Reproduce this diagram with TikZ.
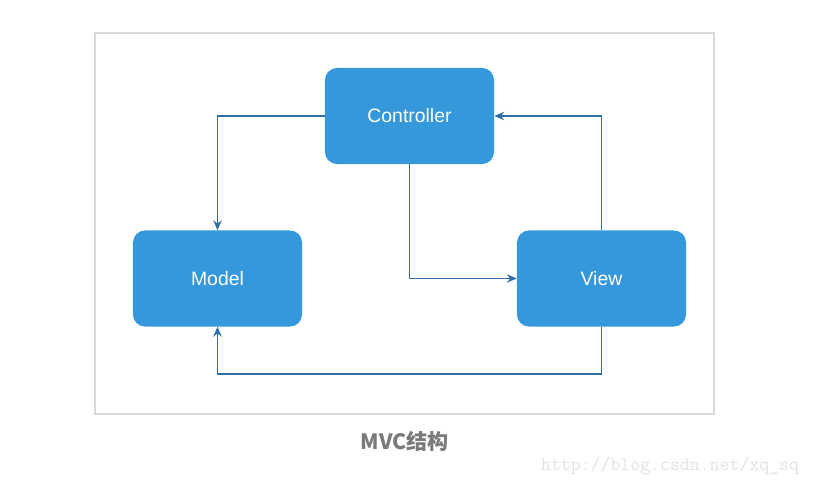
\documentclass[tikz,border=0pt]{standalone}
\usepackage{fontspec}
\usepackage{tikz}
\usetikzlibrary{arrows.meta, positioning}
\setmainfont{Liberation Sans}
\newfontfamily\cjkfont{Noto Sans CJK SC}
\definecolor{boxblue}{HTML}{3598DB}
\definecolor{linkblue}{HTML}{2F6FA6}
\definecolor{framegray}{HTML}{D9D9D9}
\definecolor{captiongray}{HTML}{7A7A7A}
\definecolor{markgray}{HTML}{E2E2E2}

\begin{document}
\begin{tikzpicture}[x=0.025cm, y=-0.025cm,
    part/.style={fill=boxblue, rounded corners=0.3cm, minimum width=4.225cm, minimum height=2.4cm, align=center, text=white, font=\fontsize{13.8}{16}\selectfont},
    link/.style={draw=linkblue, line width=1pt, -{Stealth[length=7pt, width=6pt]}},
]
    \useasboundingbox (0,0) rectangle (814,486);
    \draw[framegray, line width=1pt] (95,33) rectangle (714,414);

    \node[part] (ctrl) at (409.5, 116) {Controller};
    \node[part] (model) at (217.5, 278.5) {Model};
    \node[part] (view) at (601.5, 278.5) {View};

    \draw[link] (ctrl.west) -| (model.north);
    \draw[link] (ctrl.south) |- (view.west);
    \draw[link] (view.north) |- (ctrl.east);
    \draw[link] (view.south) -- ++(0,47) -| (model.south);

    \node[font=\cjkfont\bfseries\fontsize{15}{18}\selectfont, text=captiongray] (caption) at (405, 441) {MVC结构};
    \node[font=\ttfamily\fontsize{13.7}{16}\selectfont, text=markgray, anchor=east] (mark) at (804, 466) {http://blog.csdn.net/xq\_sq};
\end{tikzpicture}
\end{document}
